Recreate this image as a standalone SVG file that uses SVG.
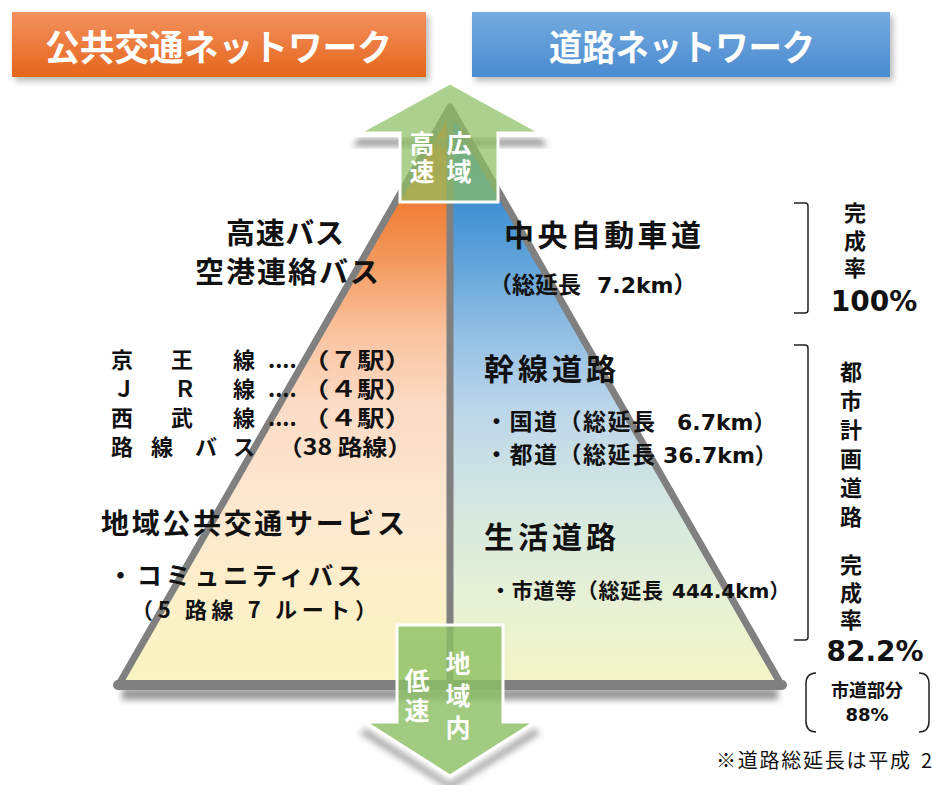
<svg xmlns="http://www.w3.org/2000/svg" width="932" height="785" viewBox="0 0 932 785">
<defs>
<style>
.jp{font-family:"Noto Sans CJK JP","Noto Sans",sans-serif;font-weight:700;fill:#111}
.lat{font-family:"DejaVu Sans","Noto Sans CJK JP",sans-serif;font-weight:700;fill:#111}
.wh{font-family:"Noto Sans CJK JP",sans-serif;font-weight:700;fill:#fff}
.vt{writing-mode:vertical-rl;text-orientation:upright}
.br{fill:none;stroke:#222;stroke-width:1.5}
</style>
<linearGradient id="gOrange" x1="0" y1="0" x2="0" y2="1">
<stop offset="0" stop-color="#f39160"/><stop offset="1" stop-color="#e5661a"/>
</linearGradient>
<linearGradient id="gBlue" x1="0" y1="0" x2="0" y2="1">
<stop offset="0" stop-color="#75acdf"/><stop offset="1" stop-color="#4a8ad0"/>
</linearGradient>
<linearGradient id="gLeft" gradientUnits="userSpaceOnUse" x1="0" y1="107" x2="0" y2="686">
<stop offset="0" stop-color="#e8661c"/>
<stop offset="0.16" stop-color="#f07c34"/>
<stop offset="0.27" stop-color="#f39a60"/>
<stop offset="0.39" stop-color="#f9c3a0"/>
<stop offset="0.52" stop-color="#fcdcc6"/>
<stop offset="0.7" stop-color="#fde8d0"/>
<stop offset="0.86" stop-color="#fcf0c8"/>
<stop offset="1" stop-color="#f9f5c0"/>
</linearGradient>
<linearGradient id="gRight" gradientUnits="userSpaceOnUse" x1="0" y1="107" x2="0" y2="686">
<stop offset="0" stop-color="#2f82c8"/>
<stop offset="0.16" stop-color="#3e8ed2"/>
<stop offset="0.27" stop-color="#62a4da"/>
<stop offset="0.39" stop-color="#92bee4"/>
<stop offset="0.52" stop-color="#bcd6ea"/>
<stop offset="0.7" stop-color="#d6e8e0"/>
<stop offset="0.86" stop-color="#e8f1d4"/>
<stop offset="1" stop-color="#f3f5c6"/>
</linearGradient>
<filter id="shadow" x="-20%" y="-20%" width="140%" height="160%">
<feGaussianBlur stdDeviation="3"/>
</filter>
</defs>
<rect width="932" height="785" fill="#fff"/>

<g id="header-public">
<rect x="15" y="16" width="414" height="65" fill="#888" opacity="0.6" filter="url(#shadow)"/>
<rect x="12" y="12" width="414" height="65" fill="url(#gOrange)"/>
<text class="wh" x="45" y="61" font-size="36" textLength="347" lengthAdjust="spacingAndGlyphs">公共交通ネットワーク</text>
</g>
<g id="header-road">
<rect x="475" y="16" width="418" height="65" fill="#888" opacity="0.6" filter="url(#shadow)"/>
<rect x="472" y="12" width="418" height="65" fill="url(#gBlue)"/>
<text class="wh" x="549" y="61" font-size="36" textLength="266" lengthAdjust="spacingAndGlyphs">道路ネットワーク</text>
</g>

<g id="pyramid">
<rect x="122" y="688" width="656" height="12" fill="#999" filter="url(#shadow)"/>
<polygon points="450,107 118,686 450,686" fill="url(#gLeft)"/>
<polygon points="450,107 450,686 782,686" fill="url(#gRight)"/>
<polygon points="450,107 118,686 782,686" fill="none" stroke="#808080" stroke-width="7" stroke-linejoin="round"/>
<line x1="450" y1="107" x2="450" y2="686" stroke="#808080" stroke-width="7"/>
<line x1="118" y1="685" x2="782" y2="685" stroke="#808080" stroke-width="10" stroke-linecap="round"/>
</g>

<g id="arrow-up">
<polygon points="359,139 541,139 548,146 352,146" fill="#777" opacity="0.8" filter="url(#shadow)"/>
<polygon points="450,83 541,133 498,133 498,202 400,202 400,133 359,133" fill="#8cbf64" fill-opacity="0.72" stroke="#fff" stroke-width="3" stroke-linejoin="miter"/>
<text class="wh vt" x="422" y="131" font-size="25" letter-spacing="3">高速</text>
<text class="wh vt" x="459" y="131" font-size="25" letter-spacing="3">広域</text>
</g>

<g id="arrow-down">
<polygon points="365,728 450,782 535,728 540,734 450,790 360,734" fill="#888" opacity="0.7" filter="url(#shadow)"/>
<polygon points="397,625 503,625 503,722 535,722 450,776 365,722 397,722" fill="#8cbf64" fill-opacity="0.82" stroke="#fff" stroke-width="3"/>
<text class="wh vt" x="417" y="668" font-size="25" letter-spacing="5">低速</text>
<text class="wh vt" x="458" y="651" font-size="25" letter-spacing="7">地域内</text>
</g>

<g id="public-text">
<text class="jp" x="226" y="244" font-size="29" textLength="118">高速バス</text>
<text class="jp" x="195" y="283" font-size="29" textLength="184">空港連絡バス</text>
<text class="jp" font-size="22"><tspan x="111" y="368">京</tspan><tspan x="171" y="368">王</tspan><tspan x="233" y="368">線</tspan><tspan x="268" y="368">....</tspan><tspan x="302" y="368" textLength="110" lengthAdjust="spacingAndGlyphs">（７駅）</tspan></text>
<text class="jp" font-size="22"><tspan x="113" y="397">Ｊ</tspan><tspan x="174" y="397">Ｒ</tspan><tspan x="233" y="397">線</tspan><tspan x="268" y="397">....</tspan><tspan x="302" y="397" textLength="110" lengthAdjust="spacingAndGlyphs">（４駅）</tspan></text>
<text class="jp" font-size="22"><tspan x="111" y="426">西</tspan><tspan x="171" y="426">武</tspan><tspan x="233" y="426">線</tspan><tspan x="268" y="426">....</tspan><tspan x="302" y="426" textLength="110" lengthAdjust="spacingAndGlyphs">（４駅）</tspan></text>
<text class="jp" font-size="22"><tspan x="111" y="455">路</tspan><tspan x="151" y="455">線</tspan><tspan x="195" y="455">バ</tspan><tspan x="233" y="455">ス</tspan><tspan x="278" y="455" textLength="134" lengthAdjust="spacingAndGlyphs">（38 路線）</tspan></text>
<text class="jp" x="101" y="534" font-size="28" textLength="304">地域公共交通サービス</text>
<text class="jp" x="108" y="585" font-size="25" textLength="254">・コミュニティバス</text>
<text class="jp" x="131" y="618" font-size="22" textLength="246">（5 路線 7 ルート）</text>
</g>

<g id="road-text">
<text class="jp" x="504" y="246" font-size="30" textLength="197">中央自動車道</text>
<text class="jp" x="489" y="293" font-size="23">（総延長<tspan class="lat" x="597" font-size="22">7.2km</tspan><tspan>）</tspan></text>
<text class="jp" x="484" y="380" font-size="30" textLength="132">幹線道路</text>
<text class="jp" x="485" y="430" font-size="23" textLength="170">・国道（総延長</text>
<text class="lat" x="677" y="430" font-size="22">6.7km<tspan class="jp">）</tspan></text>
<text class="jp" x="485" y="463" font-size="23" textLength="170">・都道（総延長</text>
<text class="lat" x="663" y="463" font-size="22">36.7km<tspan class="jp">）</tspan></text>
<text class="jp" x="484" y="548" font-size="30" textLength="132">生活道路</text>
<text class="jp" x="490" y="598" font-size="21" textLength="173">・市道等（総延長</text>
<text class="lat" x="672" y="598" font-size="20">444.4km<tspan class="jp">）</tspan></text>
</g>

<g id="completion-expressway">
<path class="br" d="M794,203 L805,203 Q808,203 808,206 L808,310 Q808,313 805,313 L794,313"/>
<text class="jp vt" x="855" y="202" font-size="22" letter-spacing="5.5">完成率</text>
<text class="lat" x="874" y="311" font-size="28" text-anchor="middle">100%</text>
</g>

<g id="completion-city">
<path class="br" d="M794,345 L805,345 Q808,345 808,348 L808,637 Q808,640 805,640 L794,640"/>
<text class="jp vt" x="851" y="361" font-size="22" letter-spacing="7">都市計画道路</text>
<text class="jp vt" x="851" y="554" font-size="22" letter-spacing="5.5">完成率</text>
<text class="lat" x="875" y="661" font-size="28" text-anchor="middle">82.2%</text>
</g>

<g id="city-road-share">
<path class="br" d="M816,673 Q806,673 806,684 L806,721 Q806,732 816,732"/>
<path class="br" d="M919,673 Q929,673 929,684 L929,721 Q929,732 919,732"/>
<text class="jp" x="867" y="697" font-size="18" text-anchor="middle">市道部分</text>
<text class="lat" x="867" y="721" font-size="18" text-anchor="middle">88%</text>
</g>

<g id="connectors"></g>

<text x="716" y="768" font-family="'Noto Sans CJK JP',sans-serif" font-size="20" fill="#111"><tspan textLength="194">※道路総延長は平成</tspan><tspan x="921">2</tspan></text>
</svg>
